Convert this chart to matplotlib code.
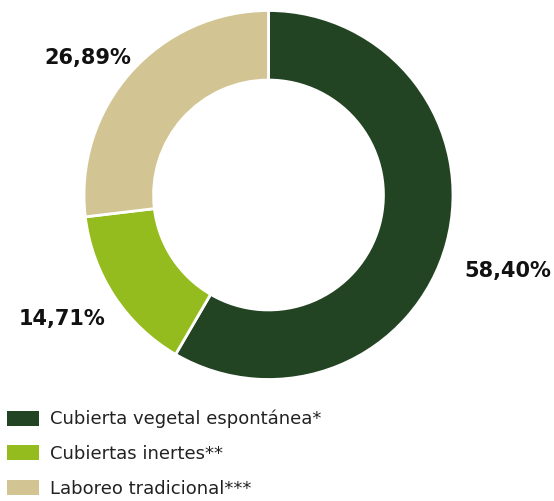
import matplotlib.pyplot as plt
from matplotlib.patches import Patch

# Datos
categorias = ['Cubierta vegetal espontánea*', 'Cubiertas inertes**', 'Laboreo tradicional***']
valores = [58.40, 14.71, 26.89]
etiquetas = ['58,40%', '14,71%', '26,89%']
colores = ['#234422', '#95BC1E', '#D2C593']

plt.rcParams['font.family'] = ['DejaVu Sans']

fig = plt.figure(figsize=(5.54, 5.01), dpi=100)
ax = fig.add_axes([84 / 554, 121.5 / 501, 369 / 554, 369 / 501])

wedges, _ = ax.pie(valores, colors=colores, startangle=90, counterclock=False,
                   radius=1, wedgeprops=dict(width=0.377, edgecolor='white', linewidth=2))
ax.set_xlim(-1, 1)
ax.set_ylim(-1, 1)
ax.set_aspect('equal')

# etiquetas de porcentaje
pos = [(1.295, -0.41), (-1.12, -0.67), (-0.98, 0.745)]
for (x, y), t in zip(pos, etiquetas):
    ax.text(x, y, t, ha='center', va='center', fontsize=15, fontweight='bold',
            color='#111111', clip_on=False)

handles = [Patch(facecolor=c, edgecolor='none') for c in colores]
fig.legend(handles, categorias, loc='upper left', bbox_to_anchor=(7 / 554, 1 - 410 / 501),
           frameon=False, fontsize=13, handlelength=1.77, handleheight=0.88,
           handletextpad=0.6, labelspacing=0.92, borderpad=0, borderaxespad=0,
           labelcolor='#222222')

fig.savefig('out.png', dpi=100)
